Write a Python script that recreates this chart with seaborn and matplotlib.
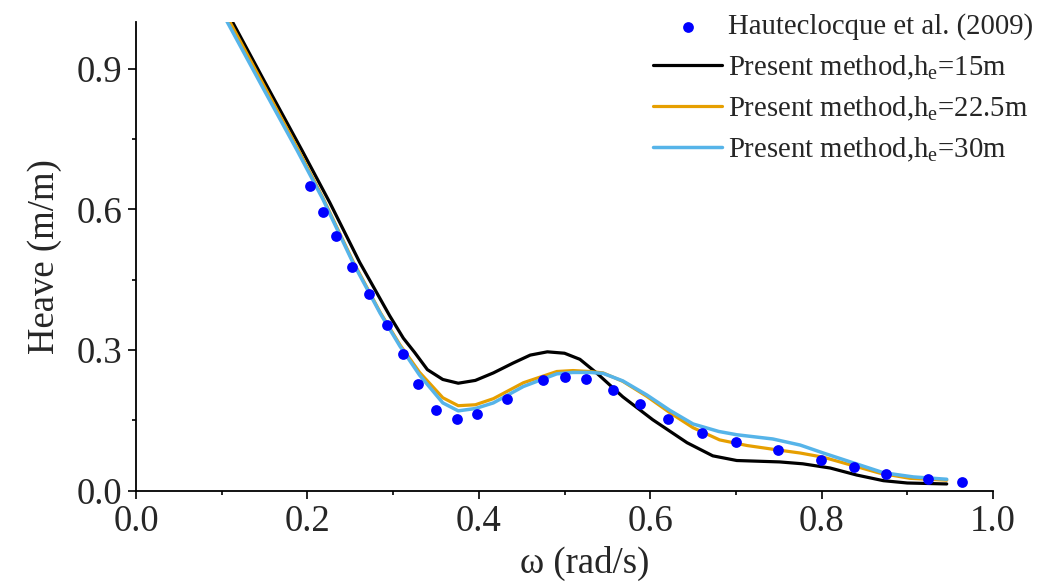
import numpy as np
import pandas as pd
import matplotlib
matplotlib.use("Agg")
import matplotlib.pyplot as plt
import seaborn as sns
from matplotlib.ticker import MultipleLocator

# experiment (Hauteclocque et al. 2009)
omega_exp = [0.203, 0.218, 0.233, 0.252, 0.272, 0.293, 0.312, 0.329, 0.350, 0.375,
             0.398, 0.433, 0.475, 0.501, 0.525, 0.557, 0.588, 0.621, 0.660, 0.700,
             0.749, 0.799, 0.838, 0.875, 0.924, 0.964]
heave_exp = [0.650, 0.595, 0.543, 0.478, 0.419, 0.354, 0.292, 0.228, 0.172, 0.153,
             0.164, 0.196, 0.235, 0.243, 0.239, 0.215, 0.185, 0.153, 0.123, 0.104,
             0.086, 0.065, 0.050, 0.035, 0.025, 0.018]

# present method, he = 15m
omega_15 = [0.100, 0.150, 0.194, 0.226, 0.261, 0.296, 0.312, 0.325, 0.340, 0.358,
            0.376, 0.396, 0.417, 0.440, 0.460, 0.480, 0.500, 0.518, 0.538, 0.568,
            0.603, 0.643, 0.673, 0.701, 0.751, 0.778, 0.810, 0.841, 0.872, 0.900, 0.946]
heave_15 = [1.043, 0.873, 0.725, 0.615, 0.487, 0.373, 0.325, 0.295, 0.258, 0.237,
            0.229, 0.235, 0.251, 0.272, 0.289, 0.296, 0.293, 0.280, 0.250, 0.200,
            0.151, 0.102, 0.074, 0.064, 0.061, 0.057, 0.048, 0.033, 0.021, 0.016, 0.014]

# present method, he = 22.5m
omega_22 = [0.100, 0.150, 0.188, 0.218, 0.253, 0.285, 0.308, 0.331, 0.358, 0.376,
            0.396, 0.417, 0.452, 0.491, 0.510, 0.530, 0.545, 0.568, 0.596, 0.623,
            0.650, 0.681, 0.713, 0.751, 0.775, 0.802, 0.833, 0.868, 0.903, 0.946]
heave_22 = [1.033, 0.862, 0.732, 0.625, 0.490, 0.380, 0.311, 0.252, 0.198, 0.181,
            0.183, 0.196, 0.230, 0.254, 0.256, 0.254, 0.251, 0.233, 0.201, 0.166,
            0.134, 0.108, 0.096, 0.086, 0.080, 0.071, 0.055, 0.037, 0.026, 0.022]

# present method, he = 30m
omega_30 = [0.100, 0.150, 0.188, 0.218, 0.253, 0.285, 0.308, 0.331, 0.358, 0.376,
            0.396, 0.417, 0.452, 0.491, 0.510, 0.530, 0.545, 0.568, 0.596, 0.623,
            0.650, 0.680, 0.701, 0.743, 0.775, 0.802, 0.837, 0.872, 0.907, 0.946]
heave_30 = [1.022, 0.853, 0.726, 0.622, 0.487, 0.378, 0.308, 0.246, 0.187, 0.170,
            0.175, 0.187, 0.222, 0.249, 0.252, 0.252, 0.250, 0.234, 0.204, 0.171,
            0.142, 0.126, 0.119, 0.110, 0.097, 0.080, 0.059, 0.038, 0.029, 0.024]

labels = ['Hauteclocque et al. (2009)',
          r'Present method,h$_\mathrm{e}$=15m',
          r'Present method,h$_\mathrm{e}$=22.5m',
          r'Present method,h$_\mathrm{e}$=30m']

sns.set_style("ticks")
plt.rcParams['font.family'] = ['Liberation Serif', 'DejaVu Serif']
plt.rcParams['mathtext.fontset'] = 'custom'
plt.rcParams['mathtext.rm'] = 'Liberation Serif'
plt.rcParams['mathtext.it'] = 'Liberation Serif:italic'

fig = plt.figure(figsize=(10.61, 5.86), dpi=100)
ax = fig.add_axes([136 / 1061, 1 - 490.5 / 586, (993 - 136) / 1061, (490.5 - 22) / 586])

sns.lineplot(x=omega_15, y=heave_15, sort=False, color='black', lw=2.3, ax=ax, label=labels[1])
sns.lineplot(x=omega_22, y=heave_22, sort=False, color='#E69F00', lw=2.3, ax=ax, label=labels[2])
sns.lineplot(x=omega_30, y=heave_30, sort=False, color='#56B4E9', lw=2.5, ax=ax, label=labels[3])
sns.scatterplot(x=omega_exp, y=heave_exp, color='#0000FF', s=60, linewidth=0, ax=ax,
                label=labels[0], zorder=5)

ax.set_xlim(0, 1.0)
ax.set_ylim(0, 1.0)
ax.xaxis.set_major_locator(MultipleLocator(0.2))
ax.xaxis.set_minor_locator(MultipleLocator(0.1))
ax.yaxis.set_major_locator(MultipleLocator(0.3))
ax.yaxis.set_minor_locator(MultipleLocator(0.15))
ax.xaxis.set_major_formatter(matplotlib.ticker.FormatStrFormatter('%.1f'))
ax.yaxis.set_major_formatter(matplotlib.ticker.FormatStrFormatter('%.1f'))
ax.tick_params(which='major', direction='out', length=6, width=1.2, labelsize=26.5, pad=4, color='black')
ax.tick_params(which='minor', direction='out', length=3, width=1.2, color='black')
sns.despine(ax=ax)
for s in ['left', 'bottom']:
    ax.spines[s].set_linewidth(1.3)
    ax.spines[s].set_color('black')

ax.set_xlabel(r'ω (rad/s)', fontsize=26.5)
ax.set_ylabel('Heave (m/m)', fontsize=26.5)
ax.xaxis.set_label_coords(0.523, -0.118)
ax.yaxis.set_label_coords(-0.086, 0.5)

h, l = ax.get_legend_handles_labels()
order = [l.index(t) for t in labels]
ax.legend([h[i] for i in order], [l[i] for i in order], loc='upper left',
          bbox_to_anchor=(653 / 1061, 0.977), bbox_transform=fig.transFigure,
          frameon=False, fontsize=20.7, handlelength=2.4, handletextpad=0.2,
          borderpad=0, borderaxespad=0, labelspacing=0.45, markerscale=1.0)

fig.savefig('out.png', dpi=100)
